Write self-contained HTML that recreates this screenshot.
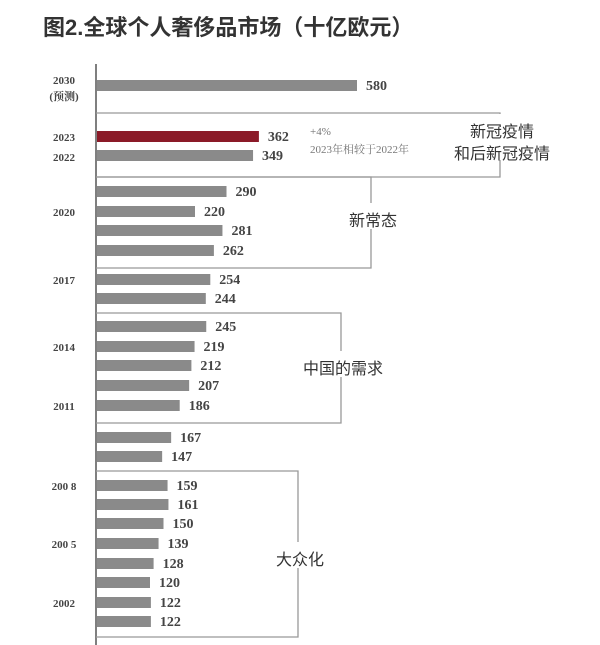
<!DOCTYPE html>
<html><head><meta charset="utf-8"><style>
html,body{margin:0;padding:0;background:#fff;}
svg{display:block;}
</style></head><body>
<svg id="chart" width="600" height="645" xmlns="http://www.w3.org/2000/svg">
<text x="43" y="35" font-family="'Liberation Sans','Noto Sans CJK SC',sans-serif" font-size="22" font-weight="bold" fill="#333">图2.全球个人奢侈品市场（十亿欧元）</text>
<line x1="96" y1="64" x2="96" y2="645" stroke="#555" stroke-width="1.5"/>
<g id="brackets"></g>
<g id="bars"></g>
<g id="ylabels"></g>
<text x="310" y="135" font-family="'Liberation Serif',serif" font-size="11" fill="#777">+4%</text>
<text x="310" y="153" font-family="'Liberation Serif','Noto Serif CJK SC',serif" font-size="11" fill="#777">2023年相较于2022年</text>
</svg>
<script>
const values=[580,362,349,290,220,281,262,254,244,245,219,212,207,186,167,147,159,161,150,139,128,120,122,122];
const barYs=[85,136,155,191,211,230,250,279,298,326,346,365,385,405,437,456,485,504,523,543,563,582,602,621];
const highlight=[false,true,false,false,false,false,false,false,false,false,false,false,false,false,false,false,false,false,false,false,false,false,false,false];
const yearLabels=["2030","(预测)","2023","2022","2020","2017","2014","2011","200 8","200 5","2002"];
const yearLabelYs=[80,96,137,157,212,280,347,406,486,544,603];
const groupNames=["新冠疫情|和后新冠疫情","新常态","中国的需求","大众化"];
const NS="http://www.w3.org/2000/svg";
const x0=96, scale=0.45;
function xScale(v){return x0+v*scale;}
function mk(tag,attrs,parent){const e=document.createElementNS(NS,tag);for(const k in attrs)e.setAttribute(k,attrs[k]);parent.appendChild(e);return e;}
const bars=document.getElementById('bars');
values.forEach((v,i)=>{
  const r=mk('rect',{x:x0+1,y:barYs[i]-5,width:xScale(v)-x0-1,height:11,fill:highlight[i]?'#8b1a28':'#8a8a8a'},bars);
  
  
  const t=mk('text',{x:xScale(v)+9,y:barYs[i]+5,'font-family':"'Liberation Serif',serif",'font-size':'14','font-weight':'bold',fill:'#444'},bars);
  t.textContent=v;
  
  
});
const yl=document.getElementById('ylabels');
yearLabels.forEach((s,i)=>{
  const t=mk('text',{x:64,y:yearLabelYs[i]+4,'text-anchor':'middle','font-family':"'Liberation Serif','Noto Serif CJK SC',serif",'font-size':'11','font-weight':'bold',fill:'#444'},yl);
  t.textContent=s;
  
  
});
const br=document.getElementById('brackets');
const boxes=[[113,177,500,[131,153]],[177,268,371,[220]],[313,423,341,[368]],[471,637,298,[559]]];
boxes.forEach((b,i)=>{
  const [top,bot,right,ty]=b;
  const p=mk('path',{d:`M${x0} ${top} H${right} V${bot} H${x0}`,fill:'none',stroke:'#999','stroke-width':'1.3'},br);
  
  
  const lines=groupNames[i].split('|');
  const h=lines.length*20+6;
  mk('rect',{x:right-48,y:ty[0]-17,width:96,height:h,fill:'#fff'},br);
  lines.forEach((s,j)=>{
    const t=mk('text',{x:right+2,y:ty[j]+6,'text-anchor':'middle','font-family':"'Liberation Sans','Noto Sans CJK SC',sans-serif",'font-size':'16',fill:'#333'},br);
    t.textContent=s;
    
    
  });
});
</script>
</body></html>
